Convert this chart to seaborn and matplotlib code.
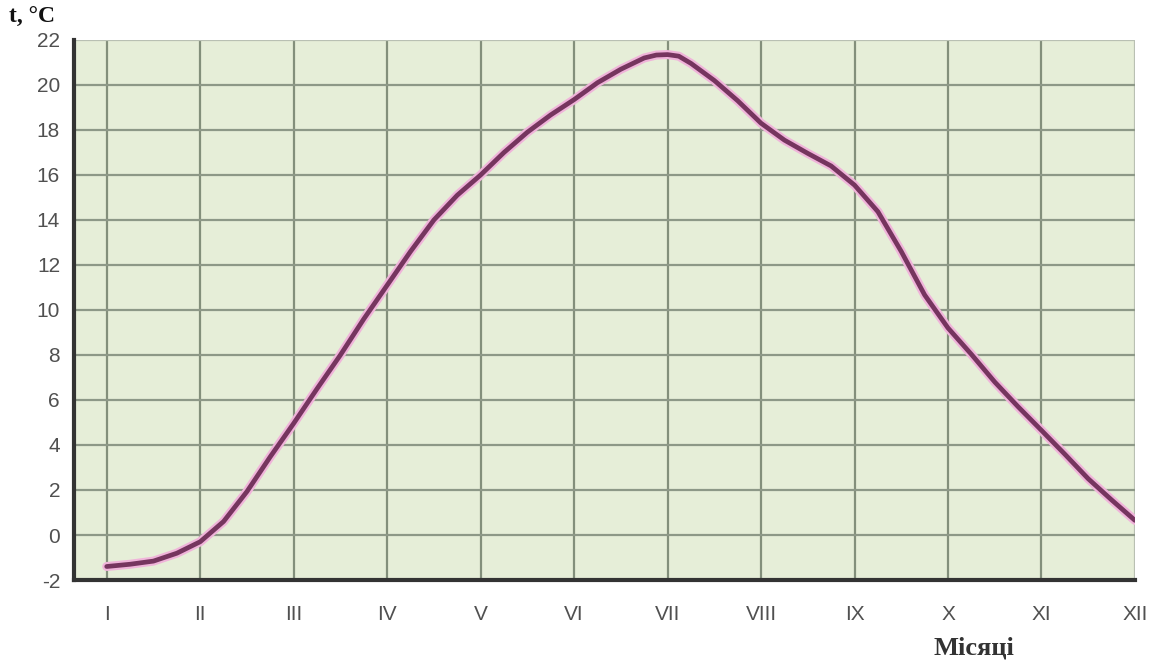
import numpy as np
import pandas as pd
import matplotlib
matplotlib.use("Agg")
import matplotlib.pyplot as plt
import seaborn as sns

# місяці (римські цифри) та температура, зчитана з графіка по чвертях місяця
month_labels = ["I", "II", "III", "IV", "V", "VI", "VII", "VIII", "IX", "X", "XI", "XII"]
month_pos = list(range(1, 13))

x_month = [1, 1.25, 1.5, 1.75, 2, 2.25, 2.5, 2.75, 3, 3.25, 3.5, 3.75,
           4, 4.25, 4.5, 4.75, 5, 5.25, 5.5, 5.75, 6, 6.25, 6.5, 6.75, 6.88,
           7, 7.12, 7.25, 7.5, 7.75, 8, 8.25, 8.5, 8.75, 9, 9.25, 9.5, 9.75,
           10, 10.25, 10.5, 10.75, 11, 11.25, 11.5, 11.75, 12]
temp = [-1.4, -1.3, -1.16, -0.81, -0.3, 0.6, 1.93, 3.48, 4.96, 6.5, 8.0, 9.6,
        11.1, 12.6, 14.0, 15.1, 16.0, 17.0, 17.9, 18.67, 19.35, 20.1, 20.7, 21.2, 21.33,
        21.35, 21.28, 20.96, 20.2, 19.3, 18.3, 17.55, 16.96, 16.4, 15.55, 14.37, 12.6, 10.67,
        9.2, 8.03, 6.8, 5.7, 4.65, 3.59, 2.5, 1.56, 0.65]

y_ticks = list(range(-2, 23, 2))

df = pd.DataFrame({"month": x_month, "t": temp})

sns.set_style("white")
plt.rcParams["font.family"] = ["Liberation Sans", "DejaVu Sans"]
plt.rcParams["axes.unicode_minus"] = False

fig = plt.figure(figsize=(11.58, 6.64), dpi=100)
ax = fig.add_axes([0.0639, 0.1265, 0.9162, 0.8133])
ax.set_facecolor("#e6eed8")

# сітка
for x in month_pos:
    c = "#b9c0b3" if x == 12 else "#838f7b"
    ax.axvline(x, color=c, lw=1.6, zorder=1)
for y in y_ticks:
    c = "#b9c0b3" if y == 22 else "#8d9887"
    ax.axhline(y, color=c, lw=1.6, zorder=1)

# крива з рожевим ореолом
sns.lineplot(data=df, x="month", y="t", ax=ax, color="#f0b4da", lw=6.5,
             zorder=3, sort=False, solid_joinstyle="round", solid_capstyle="round")
sns.lineplot(data=df, x="month", y="t", ax=ax, color="#76355f", lw=3.4,
             zorder=4, sort=False, solid_joinstyle="round", solid_capstyle="round")

ax.set_xlim(0.65, 12.0)
ax.set_ylim(-2, 22)
ax.set_xticks(month_pos)
ax.set_xticklabels(month_labels)
ax.set_yticks(y_ticks)
ax.tick_params(axis="both", length=0, labelsize=15, colors="#505050")
ax.tick_params(axis="x", pad=18)
ax.tick_params(axis="y", pad=10)
ax.set_xlabel("")
ax.set_ylabel("")

for s in ["top", "right"]:
    ax.spines[s].set_visible(False)
for s in ["left", "bottom"]:
    ax.spines[s].set_color("#333333")
    ax.spines[s].set_linewidth(3)
    ax.spines[s].set_zorder(5)

fig.text(0.008, 0.966, "t, °C", fontsize=17, fontweight="bold",
         family=["Liberation Serif", "DejaVu Serif"], color="#111111")
fig.text(0.806, 0.014, "Місяці", fontsize=19, fontweight="bold",
         family=["Liberation Serif", "DejaVu Serif"], color="#333333")

fig.savefig("out.png", dpi=100)
